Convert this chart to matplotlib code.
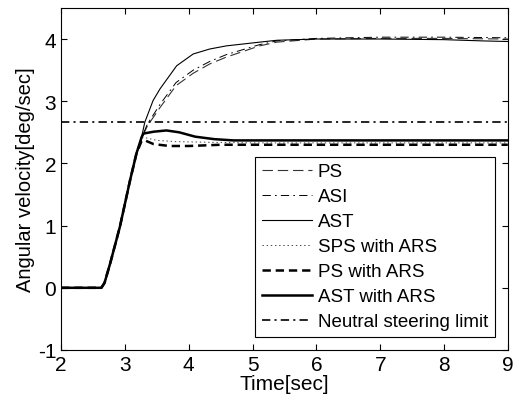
import numpy as np
import matplotlib.pyplot as plt

plt.rcParams['font.family'] = ['Liberation Sans', 'DejaVu Sans']
plt.rcParams['axes.unicode_minus'] = False
plt.rcParams['lines.scale_dashes'] = False

t_ps = [2, 2.63, 2.68, 2.77, 2.92, 3.08, 3.18, 3.26, 3.35, 3.55, 3.8, 4.07, 4.33, 4.59, 5.11, 5.38, 6.0, 7, 8, 9]
y_ps = [0, 0, 0.08, 0.4, 0.98, 1.73, 2.16, 2.4, 2.6, 2.9, 3.25, 3.45, 3.6, 3.71, 3.89, 3.95, 4.0, 4.01, 4.01, 4.0]

t_asi = [2, 2.63, 2.68, 2.77, 2.92, 3.08, 3.18, 3.26, 3.35, 3.55, 3.8, 4.07, 4.33, 4.59, 5.11, 5.38, 6.0, 7, 8, 9]
y_asi = [0, 0, 0.08, 0.4, 0.98, 1.73, 2.16, 2.41, 2.63, 2.95, 3.3, 3.5, 3.64, 3.75, 3.91, 3.97, 4.01, 4.03, 4.03, 4.02]

t_ast = [2, 2.63, 2.68, 2.77, 2.92, 3.08, 3.18, 3.26, 3.31, 3.44, 3.55, 3.81, 4.07, 4.33, 4.59, 5.11, 5.38, 6, 7, 8, 8.6, 9]
y_ast = [0, 0, 0.08, 0.4, 0.98, 1.73, 2.16, 2.42, 2.66, 3.01, 3.2, 3.57, 3.76, 3.84, 3.89, 3.95, 3.98, 4.0, 4.0, 3.99, 3.97, 3.96]

t_sps_ars = [2, 2.63, 2.68, 2.77, 2.92, 3.08, 3.18, 3.26, 3.29, 3.5, 3.8, 4.3, 5, 9]
y_sps_ars = [0, 0, 0.08, 0.4, 0.98, 1.73, 2.16, 2.4, 2.42, 2.37, 2.35, 2.34, 2.33, 2.33]

t_ps_ars = [2, 2.63, 2.68, 2.77, 2.92, 3.08, 3.18, 3.26, 3.29, 3.45, 3.7, 4.0, 4.5, 5, 9]
y_ps_ars = [0, 0, 0.08, 0.4, 0.98, 1.73, 2.16, 2.36, 2.38, 2.31, 2.28, 2.28, 2.3, 2.3, 2.3]

t_ast_ars = [2, 2.63, 2.68, 2.77, 2.92, 3.08, 3.18, 3.26, 3.29, 3.45, 3.65, 3.85, 4.1, 4.4, 4.7, 5, 9]
y_ast_ars = [0, 0, 0.08, 0.4, 0.98, 1.73, 2.16, 2.42, 2.48, 2.51, 2.53, 2.5, 2.43, 2.39, 2.37, 2.37, 2.37]

neutral_limit = 2.67

fig = plt.figure(figsize=(5.14, 4.06), dpi=100)
ax = fig.add_axes([0.119, 0.1355, 0.869, 0.8425])

ax.plot(t_ps, y_ps, color='#333333', lw=0.8, ls=(0, (7.5, 3.5)), label='PS')
ax.plot(t_asi, y_asi, color='k', lw=0.7, ls=(0, (6, 3, 1.2, 3)), label='ASI')
ax.plot(t_ast, y_ast, color='k', lw=0.8, ls='-', label='AST')
ax.plot(t_sps_ars, y_sps_ars, color='#444444', lw=0.7, ls=(0, (1, 2)), label='SPS with ARS')
ax.plot(t_ps_ars, y_ps_ars, color='k', lw=1.8, ls=(0, (6, 3.5)), label='PS with ARS')
ax.plot(t_ast_ars, y_ast_ars, color='k', lw=1.8, ls='-', label='AST with ARS')
ax.plot([2, 9], [neutral_limit, neutral_limit], color='k', lw=1.2,
        ls=(0, (6, 3, 1.5, 3)), label='Neutral steering limit')

ax.set_xlim(2, 9)
ax.set_ylim(-1, 4.5)
ax.set_xticks(np.arange(2, 10, 1))
ax.set_yticks(np.arange(-1, 5, 1))
ax.tick_params(direction='in', top=True, right=True, labelsize=15, length=4)
ax.set_xlabel('Time[sec]', fontsize=15, labelpad=0)
ax.set_ylabel('Angular velocity[deg/sec]', fontsize=14.5, labelpad=2)

leg = ax.legend(loc='lower right', fontsize=13.5, fancybox=False, framealpha=1,
                edgecolor='k', handlelength=2.7, handletextpad=0.3,
                borderpad=0.35, labelspacing=0.42, borderaxespad=0.7)
leg.get_frame().set_linewidth(0.8)

fig.savefig('out.png', dpi=100)
